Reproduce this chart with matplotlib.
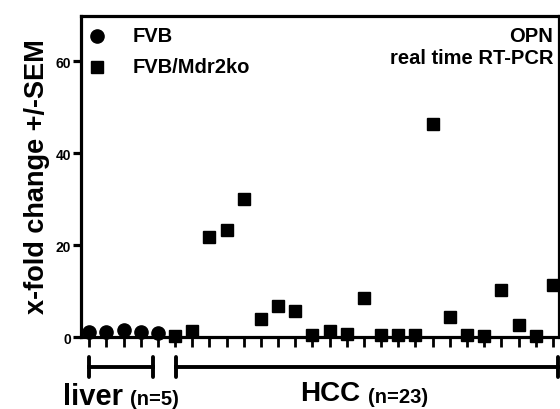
import numpy as np
import matplotlib
matplotlib.use("Agg")
import matplotlib.pyplot as plt

plt.rcParams['font.family'] = ['Liberation Sans', 'DejaVu Sans']
plt.rcParams['font.weight'] = 'bold'

# data
liver_fvb = [1.0, 1.0, 1.6, 1.0, 0.9]
hcc_mdr2ko = [0.2, 1.4, 21.7, 23.3, 30.0, 3.9, 6.8, 5.6, 0.5, 1.2, 0.6, 8.4,
              0.5, 0.5, 0.5, 46.3, 4.3, 0.4, 0.3, 10.2, 2.7, 0.2, 11.3]
y_ticks = [0, 20, 40, 60]
group_labels = ["liver", "HCC"]
group_n = ["(n=5)", "(n=23)"]

x_liver = np.arange(1, len(liver_fvb) + 1)
x_hcc = np.arange(len(liver_fvb) + 1, len(liver_fvb) + len(hcc_mdr2ko) + 1)

fig = plt.figure(figsize=(5.6, 4.1), dpi=100)
ax = fig.add_axes([0.1446, 0.1756, 0.8534, 0.7829])

ax.plot(x_liver, liver_fvb, 'o', color='black', ms=9.5, clip_on=False, zorder=5)
ax.plot(x_hcc, hcc_mdr2ko, 's', color='black', ms=9.2, clip_on=False, zorder=5)

ax.set_xlim(0.52, 28.35)
ax.set_ylim(0, 69.8)

for s in ['left', 'top', 'right', 'bottom']:
    ax.spines[s].set_linewidth(2.3)

ax.set_yticks(y_ticks)
ax.set_yticklabels([str(t) for t in y_ticks], fontsize=10, fontweight='bold')
ax.tick_params(axis='y', direction='out', length=6, width=2.3, pad=1)
ax.set_xticks(np.concatenate([x_liver, x_hcc]))
ax.set_xticklabels([])
ax.tick_params(axis='x', direction='out', length=7, width=2, pad=1)

fig.text(37 / 560, 1 - 177 / 410, "x-fold change +/-SEM", fontsize=19.5, fontweight='bold',
         rotation=90, ha='center', va='center')

# group brackets below the axis
tr = ax.get_xaxis_transform()
brackets = [(1, 4.72), (6.08, 28.28)]
for x0, x1 in brackets:
    ax.plot([x0, x1], [-0.0935, -0.0935], color='black', lw=2.8, transform=tr, clip_on=False)
    for xe in (x0, x1):
        ax.plot([xe, xe], [-0.062, -0.125], color='black', lw=2.8, transform=tr,
                clip_on=False, solid_capstyle='round')

fig.text(63 / 560, 1 - 405 / 410, group_labels[0], fontsize=21, fontweight='bold', ha='left', va='baseline')
fig.text(130 / 560, 1 - 405 / 410, group_n[0], fontsize=14.5, fontweight='bold', ha='left', va='baseline')
fig.text(300 / 560, 1 - 401 / 410, group_labels[1], fontsize=20, fontweight='bold', ha='left', va='baseline')
fig.text(368 / 560, 1 - 403 / 410, group_n[1], fontsize=14.5, fontweight='bold', ha='left', va='baseline')

# legend drawn by hand
ax.plot([0.034], [0.9385], 'o', color='black', ms=9.5, transform=ax.transAxes, clip_on=False)
ax.plot([0.034], [0.842], 's', color='black', ms=9.2, transform=ax.transAxes, clip_on=False)
ax.text(0.109, 0.9385, "FVB", transform=ax.transAxes, fontsize=14.5, fontweight='bold', va='center')
ax.text(0.109, 0.842, "FVB/Mdr2ko", transform=ax.transAxes, fontsize=14.5, fontweight='bold', va='center')

ax.text(0.988, 0.939, "OPN", transform=ax.transAxes, fontsize=14.5, fontweight='bold', ha='right', va='center')
ax.text(0.988, 0.872, "real time RT-PCR", transform=ax.transAxes, fontsize=14.5, fontweight='bold', ha='right', va='center')

fig.savefig("out.png", dpi=100)
